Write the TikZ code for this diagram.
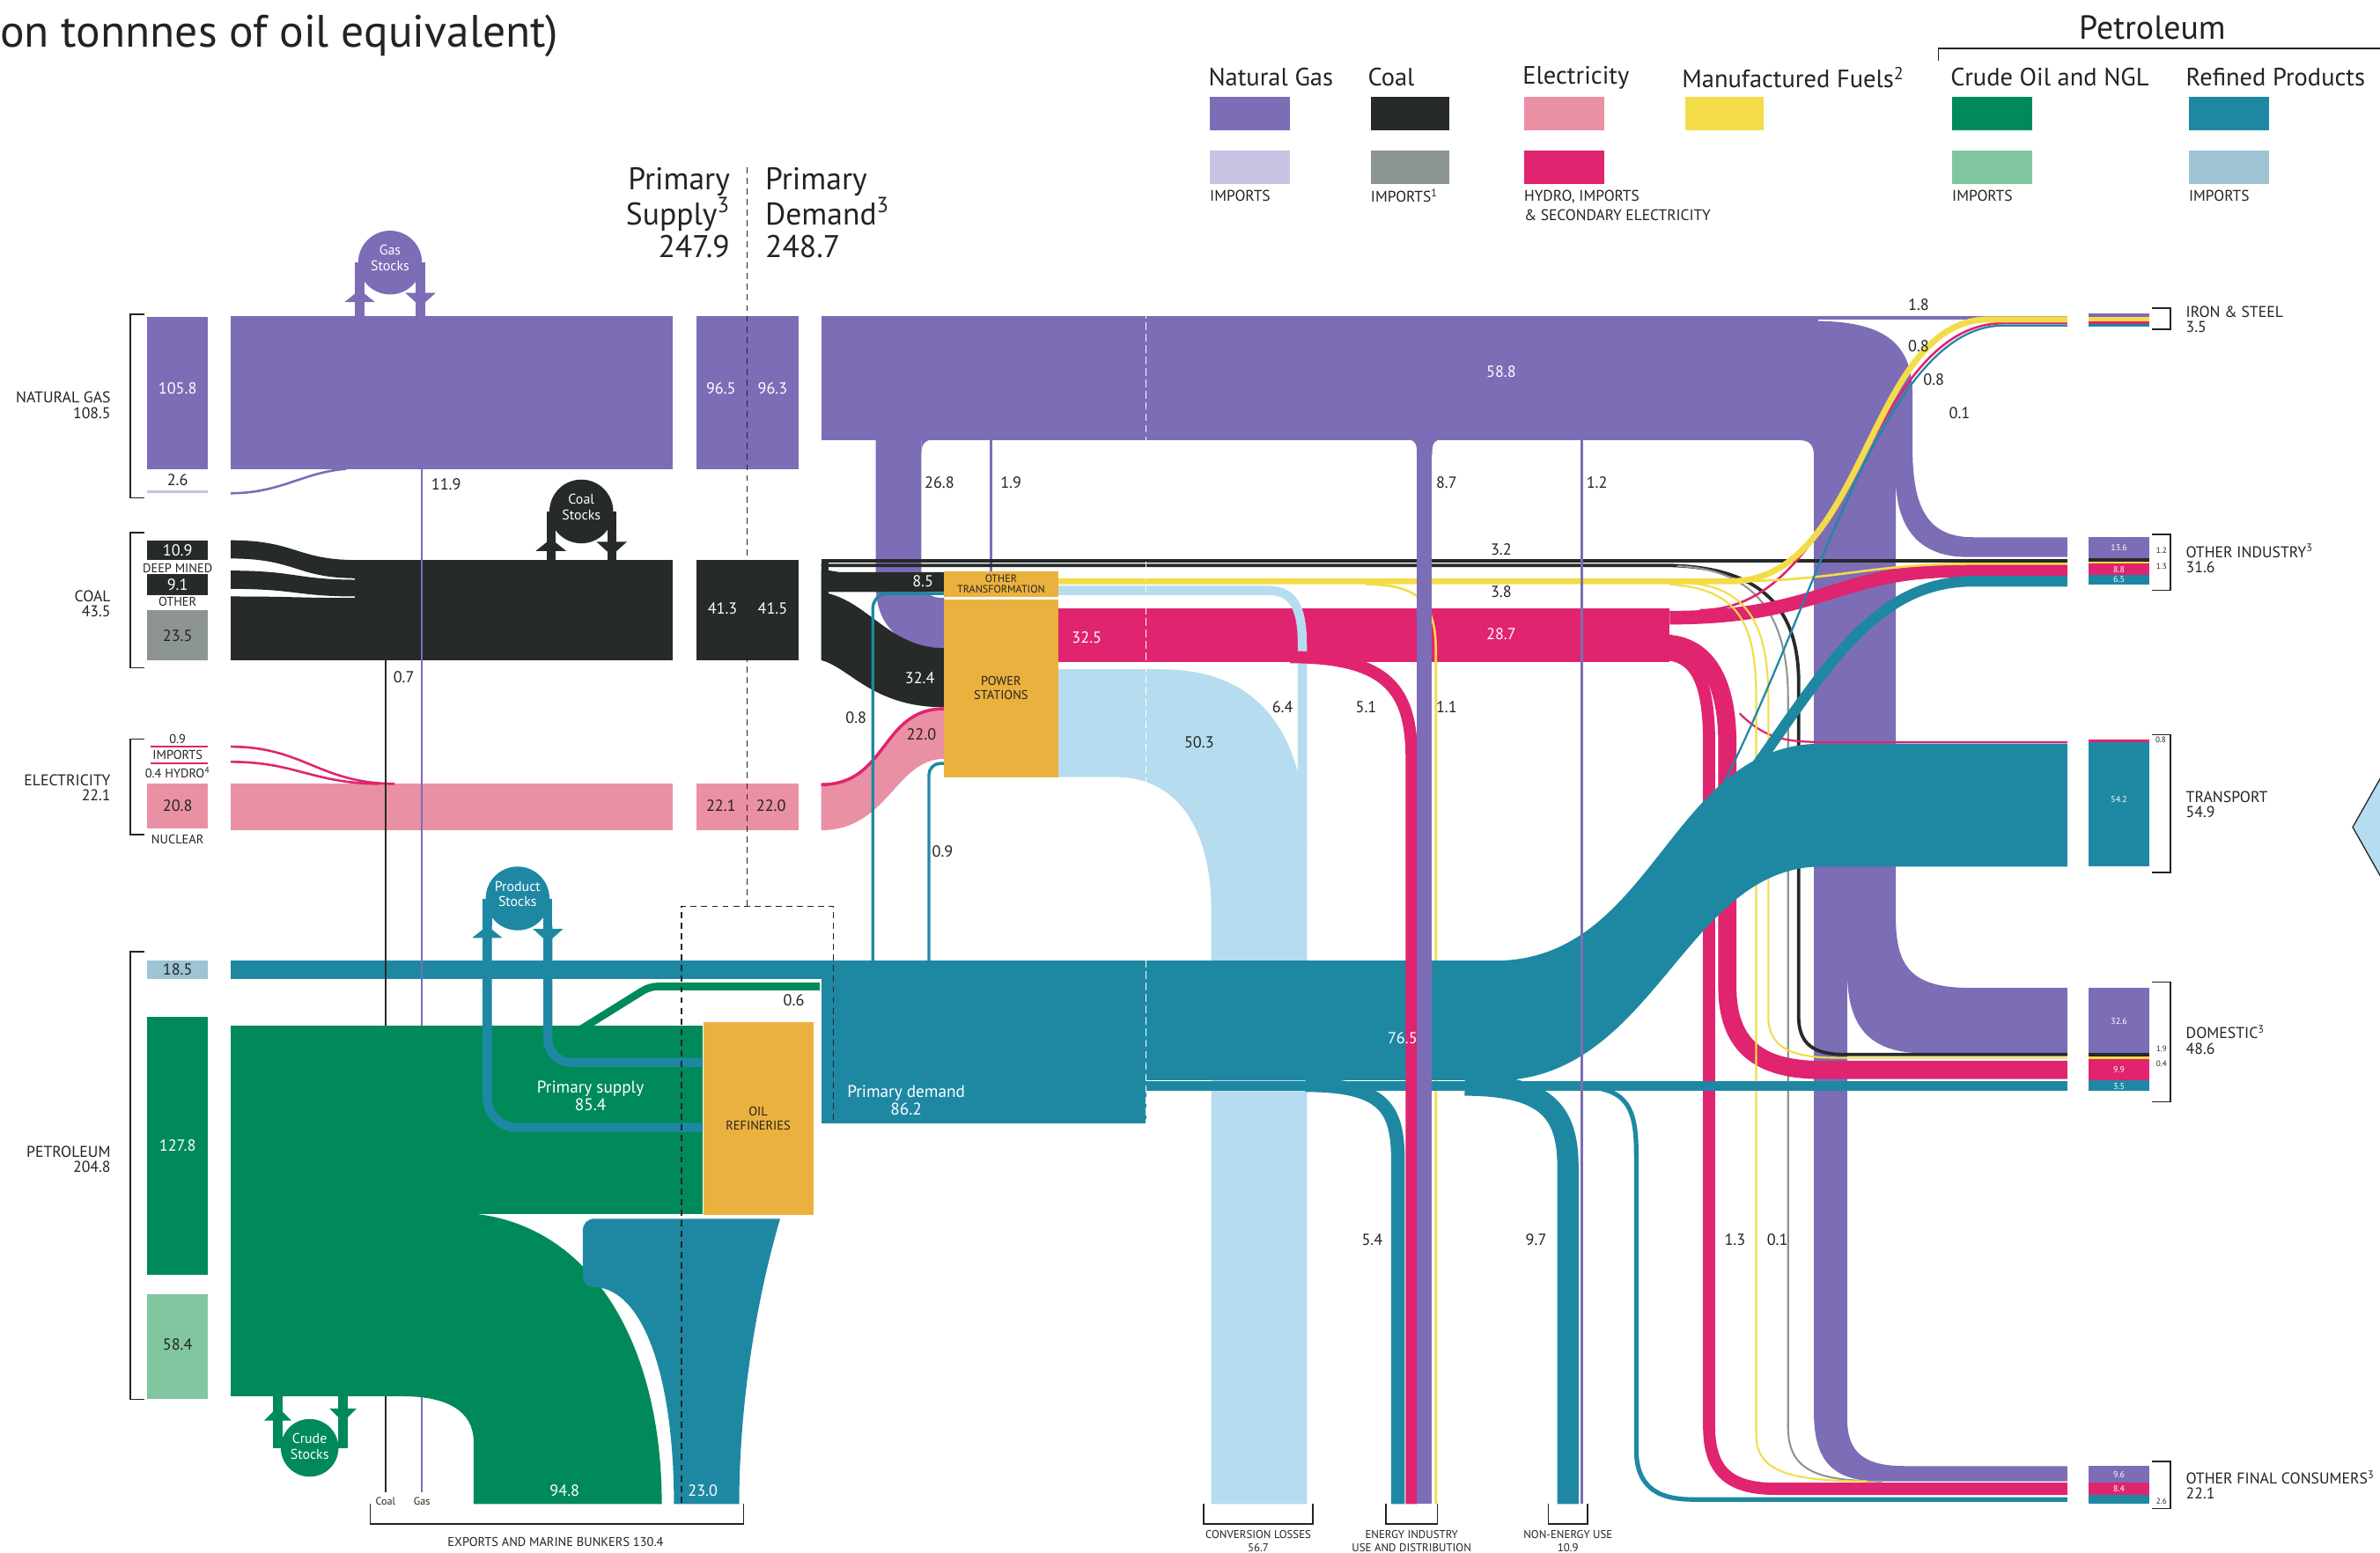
\documentclass[tikz,border=0pt]{standalone}
\usepackage{fontspec}
\setmainfont{PT Sans}
\definecolor{gasc}{HTML}{7C6DB6}
\definecolor{gasimp}{HTML}{C8C2E3}
\definecolor{coalc}{HTML}{262A28}
\definecolor{coalimp}{HTML}{8D9590}
\definecolor{elecc}{HTML}{E990A5}
\definecolor{hydroc}{HTML}{E0246F}
\definecolor{manfc}{HTML}{F3DC47}
\definecolor{crudec}{HTML}{008A5A}
\definecolor{crudeimp}{HTML}{82C6A0}
\definecolor{refc}{HTML}{1E88A3}
\definecolor{refimp}{HTML}{9EC4D4}
\definecolor{lossc}{HTML}{B6DCEF}
\definecolor{plantc}{HTML}{EBB13E}
\definecolor{inkc}{HTML}{232323}
\tikzset{
  bw/.style={line width={#1*0.4mm}},
  lbl/.style={font=\fontsize{12}{13}\selectfont, text=inkc, inner sep=0pt},
  wlbl/.style={lbl, text=white},
  caps/.style={font=\fontsize{11.7}{11.4}\selectfont, text=inkc, inner sep=0pt, align=left},
  smallcaps/.style={font=\fontsize{9.5}{10}\selectfont, text=inkc, inner sep=0pt},
  botlbl/.style={font=\fontsize{8.5}{9.5}\selectfont, text=inkc, inner sep=0pt, align=center},
  boxnum/.style={font=\fontsize{6.5}{6.5}\selectfont, text=white, inner sep=0pt},
  tinyk/.style={font=\fontsize{6}{6}\selectfont, text=inkc, inner sep=0pt},
  legtxt/.style={font=\fontsize{18.8}{20}\selectfont, text=inkc, inner sep=0pt, anchor=west},
  legsub/.style={font=\fontsize{11.5}{14.8}\selectfont, text=inkc, inner sep=0pt, anchor=west, align=left},
  head/.style={font=\fontsize{23.5}{24.5}\selectfont, text=inkc, inner sep=0pt},
  plant/.style={fill=plantc, text=inkc, align=center, inner sep=0pt, font=\fontsize{9.5}{10.5}\selectfont},
  bracket/.style={draw=inkc, line width=0.35mm},
  divider/.style={draw=inkc, line width=0.3mm, dash pattern=on 1.6mm off 1.2mm},
  stocktxt/.style={text=white, align=center, font=\fontsize{10.5}{11.5}\selectfont, inner sep=0pt}
}
% stock symbol: x, y, colour, name, text, end of stems
\newcommand{\stockup}[6]{%
  \fill[#3] (#1,#2) circle[radius=21];
  \fill[#3] (#1-23,#2) rectangle (#1-17,#6);
  \fill[#3] (#1+17,#2) rectangle (#1+23,#6);
  \fill[#3] (#1-30,#2+26) -- (#1-10,#2+26) -- (#1-20,#2+18) -- cycle;
  \fill[#3] (#1+10,#2+20) -- (#1+30,#2+20) -- (#1+20,#2+29) -- cycle;
  \node[stocktxt] (#4) at (#1,#2-3) {#5};
}

\begin{document}
\begin{tikzpicture}[x=0.4mm, y=-0.4mm]
\useasboundingbox (0,0) rectangle (1568,1023);
\clip (0,0) rectangle (1568,1023);
\fill[white] (0,0) rectangle (1568,1023);

% title and legend
\node[font=\fontsize{34}{36}\selectfont, text=inkc, anchor=base west, inner sep=0pt] (title) at (0,31) {on tonnnes of oil equivalent)};
\node[font=\fontsize{25}{27}\selectfont, text=inkc, inner sep=0pt] (lgPetrol) at (1418,18) {Petroleum};
\draw[bracket] (1277,40) -- (1277,32) -- (1575,32);
\node[legtxt] (lgGas) at (796,51) {Natural Gas};
\node[legtxt] (lgCoal) at (901,51) {Coal};
\node[legtxt] (lgElec) at (1003,51) {Electricity};
\node[legtxt] (lgManf) at (1108,51) {Manufactured Fuels\textsuperscript{2}};
\node[legtxt] (lgCrude) at (1285,51) {Crude Oil and NGL};
\node[legtxt] (lgRef) at (1440,51) {Refined Products};
\fill[gasc] (797,64) rectangle (850,86);
\fill[gasimp] (797,99) rectangle (850,121);
\fill[coalc] (903,64) rectangle (955,86);
\fill[coalimp] (903,99) rectangle (955,121);
\fill[elecc] (1004,64) rectangle (1057,86);
\fill[hydroc] (1004,99) rectangle (1057,121);
\fill[manfc] (1110,64) rectangle (1162,86);
\fill[crudec] (1286,64) rectangle (1339,86);
\fill[crudeimp] (1286,99) rectangle (1339,121);
\fill[refc] (1442,64) rectangle (1495,86);
\fill[refimp] (1442,99) rectangle (1495,121);
\node[legsub] (lgGasImp) at (797,129) {IMPORTS};
\node[legsub] (lgCoalImp) at (903,129) {IMPORTS\textsuperscript{1}};
\node[legsub, anchor=north west] (lgElecImp) at (1004,125) {HYDRO, IMPORTS\\\& SECONDARY ELECTRICITY};
\node[legsub] (lgCrudeImp) at (1286,129) {IMPORTS};
\node[legsub] (lgRefImp) at (1442,129) {IMPORTS};

% headings
\node[head, anchor=north east, align=right] (psup) at (481,110) {Primary\\Supply\textsuperscript{3}\\247.9};
\node[head, anchor=north west, align=left] (pdem) at (504,110) {Primary\\Demand\textsuperscript{3}\\248.7};

% left labels and brackets
\node[caps, anchor=east, align=right] (lNG) at (73,267) {NATURAL GAS\\108.5};
\node[caps, anchor=east, align=right] (lCoal) at (73,398) {COAL\\43.5};
\node[caps, anchor=east, align=right] (lElec) at (73,519) {ELECTRICITY\\22.1};
\node[caps, anchor=east, align=right] (lPet) at (73,764) {PETROLEUM\\204.8};
\draw[bracket] (95,207) -- (86,207) -- (86,328) -- (95,328);
\draw[bracket] (95,351) -- (86,351) -- (86,440) -- (95,440);
\draw[bracket] (95,487) -- (86,487) -- (86,550) -- (95,550);
\draw[bracket] (95,627) -- (86,627) -- (86,922) -- (95,922);

% first column
\fill[gasc] (97,209) rectangle (137,309);
\node[wlbl] (c1gas) at (117,256) {105.8};
\draw[gasimp, bw=2] (97,324) -- (137,324);
\node[lbl] (c1gasimp) at (117,316) {2.6};
\fill[coalc] (97,356) rectangle (137,369);
\node[wlbl] (c1deep) at (117,362.5) {10.9};
\node[smallcaps] (c1deepL) at (117,374.5) {DEEP MINED};
\fill[coalc] (97,378) rectangle (137,392);
\node[wlbl] (c1oth) at (117,385) {9.1};
\node[smallcaps] (c1othL) at (117,396.5) {OTHER};
\fill[coalimp] (97,402) rectangle (137,435);
\node[lbl] (c1coalimp) at (117,419) {23.5};
\node[smallcaps] (c1imp) at (117,487) {0.9};
\draw[hydroc, bw=1.5] (99,492) -- (137,492);
\node[smallcaps] (c1impL) at (117,497.5) {IMPORTS};
\draw[hydroc, bw=1.5] (99,503) -- (137,503);
\node[smallcaps] (c1hyd) at (117,509) {0.4 HYDRO\textsuperscript{4}};
\fill[elecc] (97,516) rectangle (137,546);
\node[lbl] (c1nuc) at (117,531) {20.8};
\node[smallcaps] (c1nucL) at (117,553) {NUCLEAR};
\fill[refimp] (97,633) rectangle (137,645);
\node[lbl] (c1ref) at (117,639) {18.5};
\fill[crudec] (97,670) rectangle (137,840);
\node[wlbl] (c1crude) at (117,755) {127.8};
\fill[crudeimp] (97,853) rectangle (137,922);
\node[lbl] (c1crudeimp) at (117,886) {58.4};

% conversion losses (behind)
\fill[lossc] (697,441) -- (765,441) .. controls (835,441) and (861,490) .. (861,560) -- (861,991) -- (798,991) -- (798,600) .. controls (798,545) and (775,512) .. (735,512) -- (697,512) -- cycle;

% natural gas
\fill[gasc] (152,208) rectangle (443,309);
\draw[gasc, bw=1.5] (152,325) .. controls (185,325) and (200,311) .. (228,309);
\stockup{257}{173}{gasc}{gasStk}{Gas\\Stocks}{208}
\fill[gasc] (459,208) rectangle (526,309);
\node[wlbl] (c3gasA) at (475,256) {96.5};
\node[wlbl] (c3gasB) at (509,256) {96.3};
\fill[gasc] (541,208) rectangle (1198,290);
\fill[gasc] (1195,208) rectangle (1362,210.5);
\fill[gasc] (1190,209) -- (1195,211.5) .. controls (1240,211.5) and (1260,225) .. (1260,260) -- (1260,295) .. controls (1260,335) and (1270,354) .. (1300,354) -- (1362,354) -- (1362,367) -- (1296,367) .. controls (1262,367) and (1249,345) .. (1249,315) -- (1249,605) .. controls (1249,640) and (1262,651) .. (1300,651) -- (1362,651) -- (1362,694) -- (1268,694) .. controls (1230,694) and (1217,675) .. (1217,640) -- (1217,935) .. controls (1217,957) and (1228,966) .. (1255,966) -- (1362,966) -- (1362,976) -- (1238,976) .. controls (1205,976) and (1195,960) .. (1195,930) -- (1195,300) .. controls (1195,293) and (1192,290) .. (1185,290) -- cycle;
\fill[gasc] (577,285) -- (607,285) -- (607,378) .. controls (607,389) and (611,394) .. (622,394) -- (622,427) .. controls (592,427) and (577,412) .. (577,385) -- cycle;
\fill[gasc] (607,289) -- (617,289) .. controls (609,290) and (607,292) .. (607,300) -- cycle;
\draw[gasc, bw=2] (653,288) -- (653,377);

% coal
\fill[coalc] (152,356) .. controls (195,356) and (195,369) .. (235,369) -- (235,381) .. controls (195,381) and (195,368) .. (152,368) -- cycle;
\fill[coalc] (152,376) .. controls (195,376) and (195,382) .. (235,382) -- (235,393) .. controls (195,393) and (195,388) .. (152,388) -- cycle;
\fill[coalc] (152,393) .. controls (195,393) and (195,394) .. (235,394) -- (235,435) -- (152,435) -- cycle;
\fill[coalc] (234,369) rectangle (443,435);
\stockup{383}{337}{coalc}{coalStk}{Coal\\Stocks}{369}
\fill[coalc] (459,369) rectangle (526,435);
\node[wlbl] (c3coalA) at (476,401) {41.3};
\node[wlbl] (c3coalB) at (509,401) {41.5};
\fill[coalc] (541,369) rectangle (546,435);
\draw[coalc, bw=2] (541,369.5) -- (1362,369.5);
\draw[coalc, bw=2.2] (541,372.5) -- (1095,372.5) .. controls (1160,372.5) and (1185,400) .. (1185,450) -- (1185,670) .. controls (1185,688) and (1195,694.8) .. (1215,694.8) -- (1362,694.8);
\draw[coalimp, bw=1.2] (1105,373) .. controls (1160,375) and (1178,410) .. (1178,460) -- (1178,940) .. controls (1178,968) and (1195,976) .. (1240,976);
\fill[coalc] (541,375) -- (553,377) -- (622,377) -- (622,390) -- (541,390) -- cycle;
\fill[coalc] (541,390) .. controls (572,395) and (585,427) .. (622,427) -- (622,466) .. controls (575,466) and (560,440) .. (541,435) -- cycle;

% electricity
\fill[elecc] (152,516) rectangle (443,547);
\draw[hydroc, bw=1.5] (152,492) .. controls (200,492) and (210,516) .. (260,516.5);
\draw[hydroc, bw=1.5] (152,502) .. controls (195,502) and (205,516) .. (250,516.5);
\fill[elecc] (459,516) rectangle (526,547);
\node[lbl] (c3elA) at (475,531) {22.1};
\node[lbl] (c3elB) at (508,531) {22.0};
\fill[elecc] (541,516) .. controls (585,516) and (580,466) .. (622,466) -- (622,500) .. controls (590,500) and (585,547) .. (541,547) -- cycle;
\draw[hydroc, bw=2] (541,517) .. controls (585,517) and (580,467) .. (622,467);
\fill[hydroc] (697,401) rectangle (1100,436);
\draw[hydroc, bw=9] (1100,407) .. controls (1200,407) and (1210,376) .. (1290,376) -- (1362,376);
\draw[hydroc, bw=12] (1095,424) .. controls (1125,424) and (1138,450) .. (1138,490) -- (1138,650) .. controls (1138,690) and (1160,705) .. (1200,705) -- (1362,705);
\draw[hydroc, bw=8] (1095,431) .. controls (1118,431) and (1126,450) .. (1126,490) -- (1126,940) .. controls (1126,970) and (1140,981) .. (1170,981) -- (1362,981);
\draw[hydroc, bw=1.5] (1120,402) .. controls (1220,402) and (1230,213) .. (1320,213) -- (1362,213);
\draw[hydroc, bw=1.3] (1146,470) .. controls (1165,489) and (1180,489) .. (1210,489) -- (1362,489);

% manufactured fuels and losses from other transformation
\draw[manfc, bw=4] (697,383) -- (1140,383) .. controls (1230,383) and (1230,210.5) .. (1310,210.5) -- (1362,210.5);
\draw[manfc, bw=1.5] (1140,383) .. controls (1210,383) and (1230,371.5) .. (1300,371.5) -- (1362,371.5);
\draw[manfc, bw=1.2] (1110,384) .. controls (1150,386) and (1165,410) .. (1165,460) -- (1165,670) .. controls (1165,690) and (1180,697) .. (1210,697) -- (1362,697);
\draw[manfc, bw=1.2] (1100,385) .. controls (1145,388) and (1157,410) .. (1157,460) -- (1157,945) .. controls (1157,968) and (1175,976) .. (1230,976);
\draw[manfc, bw=1.5] (900,385) .. controls (938,385) and (946,400) .. (946,430) -- (946,991);
\draw[lossc, bw=6] (697,389) -- (835,389) .. controls (852,389) and (858,400) .. (858,425) -- (858,560);

% refined products
\fill[refc] (152,633) rectangle (541,645);
\fill[refc] (541,633) rectangle (755,740);
\fill[refc] (755,633) rectangle (985,712);
\fill[refc] (985,633) .. controls (1090,633) and (1100,490) .. (1200,490) -- (1362,490) -- (1362,571) -- (1200,571) .. controls (1110,571) and (1090,712) .. (985,712) -- cycle;
\draw[refc, bw=6] (755,715.5) -- (1362,715.5);
\draw[refc, bw=9] (860,715) .. controls (912,715) and (921,730) .. (921,765) -- (921,991);
\draw[refc, bw=14] (965,715) .. controls (1022,715) and (1033,735) .. (1033,770) -- (1033,991);
\draw[refc, bw=3] (1040,716) .. controls (1072,716) and (1078,730) .. (1078,760) -- (1078,955) .. controls (1078,978) and (1090,988) .. (1115,988) -- (1362,988);
\draw[refc, bw=7] (1115,560) .. controls (1190,470) and (1220,383) .. (1300,383) -- (1362,383);
\draw[refc, bw=1.3] (1105,570) .. controls (1190,440) and (1230,214.5) .. (1320,214.5) -- (1362,214.5);
\draw[refc, bw=2, rounded corners=4mm] (575,633) -- (575,391) -- (622,391);
\draw[refc, bw=2, rounded corners=3mm] (612,633) -- (612,503) -- (622,503);

% verticals into energy industry and non-energy use
\draw[hydroc, bw=8] (850,433) .. controls (915,433) and (930,455) .. (930,500) -- (930,991);
\fill[gasc] (933.5,286) rectangle (943.5,991);
\fill[gasc] (925,289) .. controls (933,290) and (933.5,292) .. (933.5,300) -- (943.5,300) .. controls (943.5,292) and (944,290) .. (952,289) -- cycle;
\draw[gasc, bw=1.5] (1042,288) -- (1042,991);

% crude oil
\draw[coalc, bw=1.2] (254,435) -- (254,983);
\draw[gasc, bw=1.2] (278,309) -- (278,983);
\fill[crudec] (152,676) rectangle (463,800);
\fill[crudec] (152,799) -- (300,799) .. controls (385,800) and (436,880) .. (436,991) -- (312,991) -- (312,950) .. controls (312,930) and (295,920) .. (265,920) -- (152,920) -- cycle;
\fill[refc] (392,803) -- (514,803) .. controls (500,850) and (487,920) .. (487,991) -- (444,991) .. controls (444,910) and (425,850) .. (392,848) .. controls (386,848) and (384,845) .. (384,840) -- (384,811) .. controls (384,806) and (387,803) .. (392,803) -- cycle;
\draw[crudec, bw=5, rounded corners=2mm] (383,678) -- (428,650) -- (540,650);
\fill[crudec] (204,954) circle[radius=19];
\fill[crudec] (180,918) rectangle (186,954);
\fill[crudec] (223,918) rectangle (229,954);
\fill[crudec] (174,936) -- (192,936) -- (183,927) -- cycle;
\fill[crudec] (217,928) -- (235,928) -- (226,937) -- cycle;
\node[stocktxt] (crudeStk) at (204,953) {Crude\\Stocks};
\draw[refc, bw=6, rounded corners=8mm] (321,610) -- (321,743) -- (463,743);
\draw[refc, bw=6, rounded corners=6mm] (361,610) -- (361,700) -- (463,700);
\stockup{341}{592}{refc}{prodStk}{Product\\Stocks}{610}

% transformation boxes
\node[plant, minimum width=30mm, minimum height=46.8mm] (power) at (659.5,453.5) {POWER\\STATIONS};
\node[plant, minimum width=30mm, minimum height=6.6mm, font=\fontsize{8}{8}\selectfont] (otherT) at (659.5,384.8) {OTHER\\TRANSFORMATION};
\node[plant, minimum width=29mm, minimum height=51mm] (refinery) at (499.5,737) {OIL\\REFINERIES};

% fold and dividers
\draw[white, line width=0.35mm, dash pattern=on 2mm off 1mm] (755,205) -- (755,995);
\draw[divider] (492,110) -- (492,597);
\draw[divider] (449,990) -- (449,597) -- (549,597) -- (549,740);

% flow labels
\node[lbl, anchor=west] (f119) at (284,319) {11.9};
\node[lbl, anchor=west] (f07) at (259,446) {0.7};
\node[lbl, anchor=west] (f268) at (609,318) {26.8};
\node[lbl, anchor=west] (f19) at (659,318) {1.9};
\node[lbl, anchor=west] (f87) at (946,318) {8.7};
\node[lbl, anchor=west] (f12) at (1045,318) {1.2};
\node[wlbl] (f588) at (989,245) {58.8};
\node[lbl] (f32) at (989,362) {3.2};
\node[lbl] (f38) at (989,390) {3.8};
\node[wlbl] (f85) at (608,383) {8.5};
\node[wlbl] (f324) at (606,447) {32.4};
\node[lbl] (f220) at (607,484) {22.0};
\node[lbl] (f08) at (564,473) {0.8};
\node[lbl] (f09) at (621,561) {0.9};
\node[wlbl] (f325) at (716,420) {32.5};
\node[wlbl] (f287) at (989,418) {28.7};
\node[lbl] (f64) at (845,466) {6.4};
\node[lbl] (f51) at (900,466) {5.1};
\node[lbl] (f11) at (953,466) {1.1};
\node[lbl] (f503) at (790,489) {50.3};
\node[wlbl] (f765) at (924,684) {76.5};
\node[lbl] (f06) at (523,659) {0.6};
\node[lbl] (f54) at (904,817) {5.4};
\node[lbl] (f97) at (1012,817) {9.7};
\node[lbl] (f13) at (1143,817) {1.3};
\node[lbl] (f01) at (1171,817) {0.1};
\node[lbl] (f18) at (1264,201) {1.8};
\node[lbl] (f08a) at (1264,228) {0.8};
\node[lbl] (f08b) at (1274,250) {0.8};
\node[lbl] (f01b) at (1291,272) {0.1};
\node[wlbl, align=center, font=\fontsize{12.7}{13.5}\selectfont] (psupL) at (389,722) {Primary supply\\85.4};
\node[wlbl, align=center, font=\fontsize{12.7}{13.5}\selectfont] (pdemL) at (597,725) {Primary demand\\86.2};
\node[wlbl] (f948) at (372,982) {94.8};
\node[wlbl] (f230) at (463,982) {23.0};
\node[tinyk, font=\fontsize{8}{8}\selectfont] (coalX) at (254,989) {Coal};
\node[tinyk, font=\fontsize{8}{8}\selectfont] (gasX) at (278,989) {Gas};

% bottom outputs
\draw[bracket] (244,991) -- (244,1004) -- (490,1004) -- (490,991);
\node[botlbl, font=\fontsize{9.5}{10}\selectfont] (oExp) at (366,1016) {EXPORTS AND MARINE BUNKERS 130.4};
\draw[bracket] (793,991) -- (793,1004) -- (865,1004) -- (865,991);
\node[botlbl] (oLoss) at (829,1015.5) {CONVERSION LOSSES\\56.7};
\draw[bracket] (913,991) -- (913,1004) -- (947,1004) -- (947,991);
\node[botlbl] (oEI) at (930,1015.5) {ENERGY INDUSTRY\\USE AND DISTRIBUTION};
\draw[bracket] (1020,991) -- (1020,1004) -- (1046,1004) -- (1046,991);
\node[botlbl] (oNE) at (1033,1015.5) {NON-ENERGY USE\\10.9};

% final consumers
\fill[gasc] (1376,206.5) rectangle (1416,209);
\fill[manfc] (1376,209) rectangle (1416,211.6);
\fill[hydroc] (1376,211.6) rectangle (1416,213.2);
\fill[refc] (1376,213.2) rectangle (1416,215.2);
\draw[bracket] (1418,203) -- (1430,203) -- (1430,217) -- (1418,217);
\node[caps, anchor=west] (oIS) at (1440,210.5) {IRON \& STEEL\\3.5};

\fill[gasc] (1376,354) rectangle (1416,368);
\fill[coalc] (1376,368) rectangle (1416,370);
\fill[manfc] (1376,370) rectangle (1416,371.5);
\fill[hydroc] (1376,371.5) rectangle (1416,379);
\fill[refc] (1376,379) rectangle (1416,385);
\node[boxnum] (n136) at (1396,361) {13.6};
\node[boxnum] (n88) at (1396,375.3) {8.8};
\node[boxnum] (n65) at (1396,382) {6.5};
\draw[bracket] (1418,352) -- (1430,352) -- (1430,389) -- (1418,389);
\node[tinyk] (n12) at (1424,363) {1.2};
\node[tinyk] (n13) at (1424,373) {1.3};
\node[caps, anchor=west] (oOI) at (1440,368) {OTHER INDUSTRY\textsuperscript{3}\\31.6};

\fill[hydroc] (1376,487.5) rectangle (1416,489);
\fill[refc] (1376,489) rectangle (1416,571);
\node[boxnum] (n542) at (1396,527) {54.2};
\draw[bracket] (1418,484) -- (1430,484) -- (1430,575) -- (1418,575);
\node[tinyk] (n08) at (1423.5,487.5) {0.8};
\node[caps, anchor=west] (oTr) at (1440,530) {TRANSPORT\\54.9};

\fill[gasc] (1376,651) rectangle (1416,694);
\fill[coalc] (1376,694) rectangle (1416,696);
\fill[manfc] (1376,696) rectangle (1416,698);
\fill[hydroc] (1376,698) rectangle (1416,712);
\fill[refc] (1376,712) rectangle (1416,719);
\node[boxnum] (n326) at (1396,673) {32.6};
\node[boxnum] (n99) at (1396,705) {9.9};
\node[boxnum] (n35) at (1396,716) {3.5};
\draw[bracket] (1418,647) -- (1430,647) -- (1430,726) -- (1418,726);
\node[tinyk] (n19) at (1424,691) {1.9};
\node[tinyk] (n04) at (1424,701) {0.4};
\node[caps, anchor=west] (oDom) at (1440,685) {DOMESTIC\textsuperscript{3}\\48.6};

\fill[gasc] (1376,966) rectangle (1416,977);
\fill[hydroc] (1376,977) rectangle (1416,985);
\fill[refc] (1376,985) rectangle (1416,991);
\node[boxnum] (n96) at (1396,971.5) {9.6};
\node[boxnum] (n84) at (1396,981) {8.4};
\draw[bracket] (1418,963) -- (1430,963) -- (1430,994) -- (1418,994);
\node[tinyk] (n26) at (1424,989) {2.6};
\node[caps, anchor=west] (oOF) at (1440,978.5) {OTHER FINAL CONSUMERS\textsuperscript{3}\\22.1};

% edge of the next panel
\filldraw[fill=lossc, draw=inkc, line width=0.3mm] (1550,545) -- (1580,492) -- (1580,598) -- cycle;
\end{tikzpicture}
\end{document}
